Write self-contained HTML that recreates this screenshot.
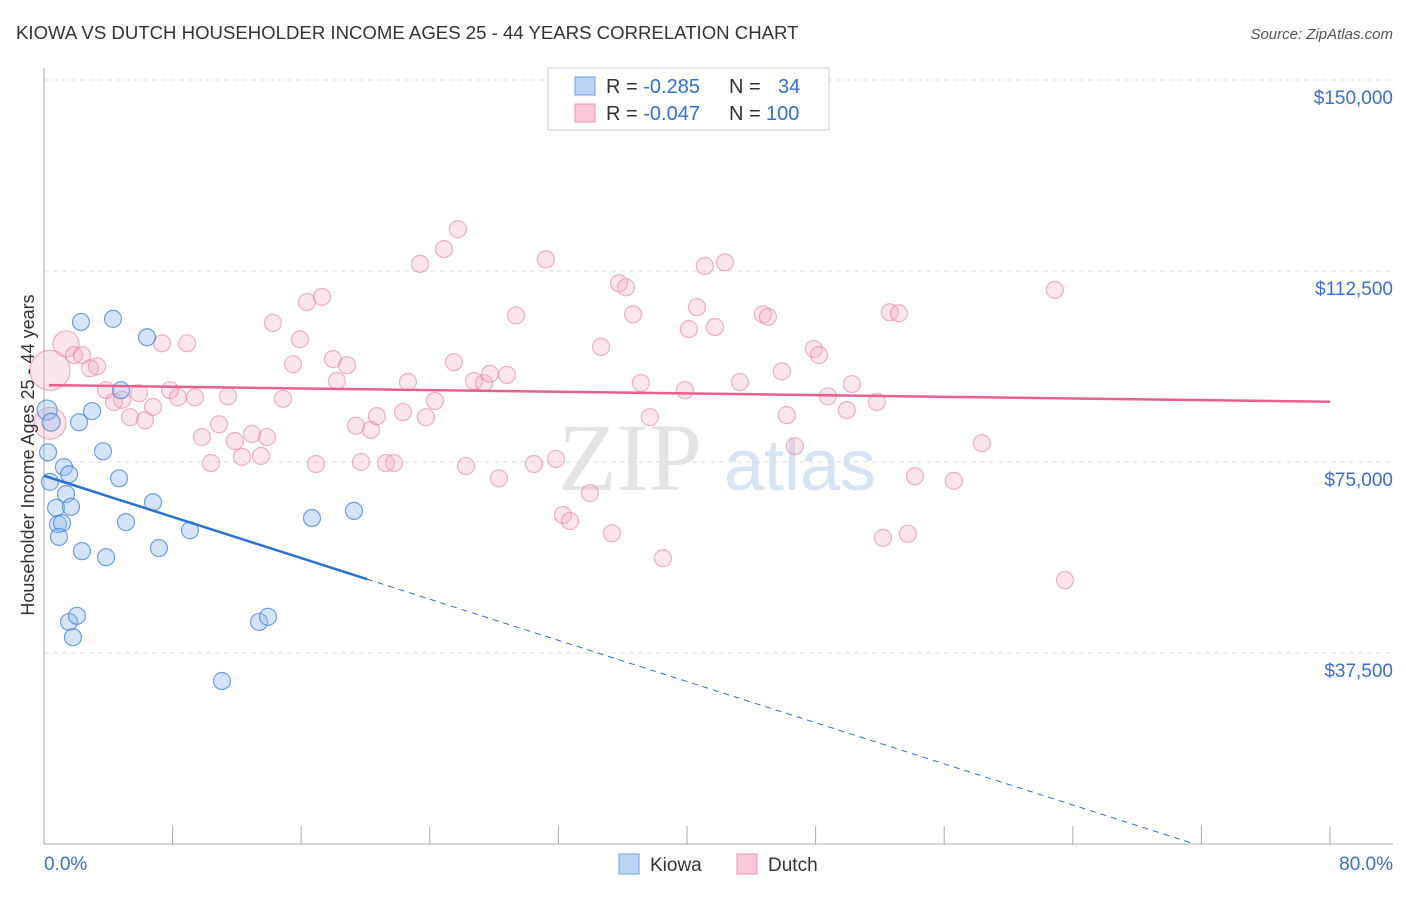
<!DOCTYPE html>
<html><head><meta charset="utf-8"><style>
body{margin:0;background:#fff;font-family:"Liberation Sans",sans-serif;}
svg text{font-family:"Liberation Sans",sans-serif;}
</style></head><body>
<svg id="chart" width="1406" height="892" viewBox="0 0 1406 892">
<text x="16" y="39" font-size="18.6" fill="#333">KIOWA VS DUTCH HOUSEHOLDER INCOME AGES 25 - 44 YEARS CORRELATION CHART</text>
<text x="1393" y="39" font-size="15" fill="#555" font-style="italic" text-anchor="end">Source: ZipAtlas.com</text>
<text x="630" y="490" font-size="96" fill="#e4e4e4" text-anchor="middle" style="font-family:'Liberation Serif',serif">ZIP</text>
<text x="800" y="490" font-size="72" fill="#d6e4f5" text-anchor="middle">atlas</text>
<g id="grid"></g>
<g id="axes"></g>
<g id="marks"></g>
<g id="lines"></g>
<text transform="translate(34,455) rotate(-90)" font-size="18" fill="#333" text-anchor="middle">Householder Income Ages 25 - 44 years</text>
<g>
<rect x="548" y="68" width="281" height="62" fill="#fff" stroke="#ccc"/>
<rect x="575" y="77" width="20" height="18" fill="#b9d4f5" stroke="#6f9fe0"/>
<rect x="575" y="104" width="20" height="18" fill="#fbc8d6" stroke="#ec95b0"/>
<text x="606" y="93" font-size="20" fill="#333">R = <tspan fill="#2f6fd6">-0.285</tspan><tspan x="729">N = </tspan><tspan x="778" fill="#2f6fd6">34</tspan></text>
<text x="606" y="120" font-size="20" fill="#333">R = <tspan fill="#2f6fd6">-0.047</tspan><tspan x="729">N = </tspan><tspan x="766" fill="#2f6fd6">100</tspan></text>
</g>
<g>
<rect x="619" y="854" width="20" height="20" fill="#b9d4f5" stroke="#6f9fe0"/>
<text x="650" y="871" font-size="19" fill="#333">Kiowa</text>
<rect x="737" y="854" width="20" height="20" fill="#fbc8d6" stroke="#ec95b0"/>
<text x="768" y="871" font-size="19" fill="#333">Dutch</text>
</g>
</svg>
<script>
const yTicks=[37500,75000,112500,150000];
const yTickLabels=["$37,500","$75,000","$112,500","$150,000"];
const xEndLabels=["0.0%","80.0%"];
const kiowaX=[0.19,0.44,0.25,0.37,1.24,1.56,1.37,0.75,1.68,0.87,1.12,0.93,2.36,3.86,1.56,2.05,1.80,2.30,4.29,6.41,4.79,2.99,2.18,3.67,4.67,6.78,5.10,7.15,9.08,11.07,13.38,13.93,16.67,19.28];
const kiowaY=[85200,82800,76900,71100,74000,72600,68700,66000,66200,62800,63000,60300,57500,56300,43600,44800,40600,102500,103100,99500,89100,85000,82800,77100,71800,67100,63200,58100,61600,32000,43600,44600,64000,65400];
const dutchX=[0.37,0.37,1.37,1.87,2.36,2.86,3.30,3.86,4.35,4.85,5.35,5.91,6.28,6.78,7.34,7.84,8.33,8.90,9.39,9.83,10.39,10.89,11.44,11.88,12.32,12.94,13.50,13.87,14.24,14.87,15.49,15.92,16.36,16.92,17.29,17.98,18.22,18.85,19.41,19.72,20.34,20.71,21.27,21.77,22.33,22.64,23.39,23.76,24.32,24.88,25.50,25.75,26.25,26.75,27.37,27.74,28.30,28.80,29.36,30.48,31.22,31.85,32.28,32.72,33.96,34.65,35.33,35.77,36.20,36.64,37.13,37.69,38.50,39.87,40.12,40.62,41.11,41.74,42.36,43.29,44.72,45.03,45.90,46.21,46.71,47.89,48.21,48.76,49.94,50.26,51.81,52.19,52.62,53.18,53.74,54.18,56.60,58.34,62.88,63.51];
const dutchY=[93.0,82.6,98.2,96.0,96.0,93.4,93.8,89.1,86.8,87.2,83.8,88.5,83.2,85.8,98.3,89.1,87.7,98.3,87.7,79.9,74.8,82.4,87.9,79.1,76.0,80.5,76.2,79.9,102.3,87.4,94.2,99.1,106.4,74.6,107.4,95.2,90.9,94.0,82.1,75.0,81.3,84.0,74.8,74.8,84.8,90.7,113.9,83.8,87.0,116.8,94.6,120.7,74.2,90.9,90.5,92.3,71.8,92.1,103.8,74.6,114.8,75.6,64.6,63.4,68.9,97.6,61.0,110.1,109.3,104.0,90.5,83.8,56.1,89.1,101.1,105.4,113.5,101.5,114.2,90.7,104.0,103.5,92.8,84.2,78.1,97.2,96.0,87.9,85.2,90.3,86.8,60.1,104.4,104.2,60.9,72.2,71.3,78.7,108.8,51.8].map(v=>v*1000);
const kiowaR=[10,9];
const dutchR=[20,16,13];
const kiowaTrend=[72300,-1010];
const dutchTrend=[90100,-41];
const NS='http://www.w3.org/2000/svg';
const X=v=>44+v/80*1286;
const Y=v=>844-v/37500*191;
function mk(tag,attrs,parent){const e=document.createElementNS(NS,tag);for(const k in attrs)e.setAttribute(k,attrs[k]);document.getElementById(parent).appendChild(e);return e;}
yTicks.forEach((t,i)=>{
 const g=mk('line',{x1:44,x2:1393,y1:Y(t),y2:Y(t),stroke:'#ddd','stroke-dasharray':'5,4'},'grid');
 
 
 const tx=mk('text',{x:1393,y:Y(t)+24,'font-size':19,fill:'#3a6fd0','text-anchor':'end'},'axes');
 tx.textContent=yTickLabels[i];
 
 
});
const ax=mk('line',{x1:44,x2:44,y1:68,y2:844,stroke:'#aaa'},'axes');


const bx=mk('line',{x1:44,x2:1393,y1:844,y2:844,stroke:'#aaa'},'axes');


for(let i=0;i<=10;i++){
 const tk=mk('line',{x1:X(i*8),x2:X(i*8),y1:826,y2:844,stroke:'#aaa'},'axes');
 
 
}
const l0=mk('text',{x:44,y:870,'font-size':19,fill:'#3a6fd0'},'axes');
l0.textContent=xEndLabels[0];


const l1=mk('text',{x:1393,y:870,'font-size':19,fill:'#3a6fd0','text-anchor':'end'},'axes');
l1.textContent=xEndLabels[1];


dutchX.forEach((x,i)=>{
 const c=mk('circle',{cx:X(x),cy:Y(dutchY[i]),r:dutchR[i]||8.5,fill:'rgba(245,170,192,0.3)',stroke:'rgba(230,130,162,0.6)','stroke-width':1.2},'marks');
 
 
});
kiowaX.forEach((x,i)=>{
 const c=mk('circle',{cx:X(x),cy:Y(kiowaY[i]),r:kiowaR[i]||8.5,fill:'rgba(150,190,240,0.4)',stroke:'rgba(70,130,220,0.75)','stroke-width':1.2},'marks');
 
 
});
const kf=x=>kiowaTrend[0]+kiowaTrend[1]*x;
const df=x=>dutchTrend[0]+dutchTrend[1]*x;
const ks=mk('line',{x1:X(0),y1:Y(kf(0)),x2:X(20.1),y2:Y(kf(20.1)),stroke:'#2a72d6','stroke-width':2.5},'lines');


const xEnd=-kiowaTrend[0]/kiowaTrend[1];
const kd=mk('line',{x1:X(20.1),y1:Y(kf(20.1)),x2:X(xEnd),y2:Y(0),stroke:'#2a72d6','stroke-width':1,'stroke-dasharray':'6,5'},'lines');


const dl=mk('line',{x1:X(0.3),y1:Y(df(0.3)),x2:X(80),y2:Y(df(80)),stroke:'#e8608c','stroke-width':2.5},'lines');


</script>
</body></html>
